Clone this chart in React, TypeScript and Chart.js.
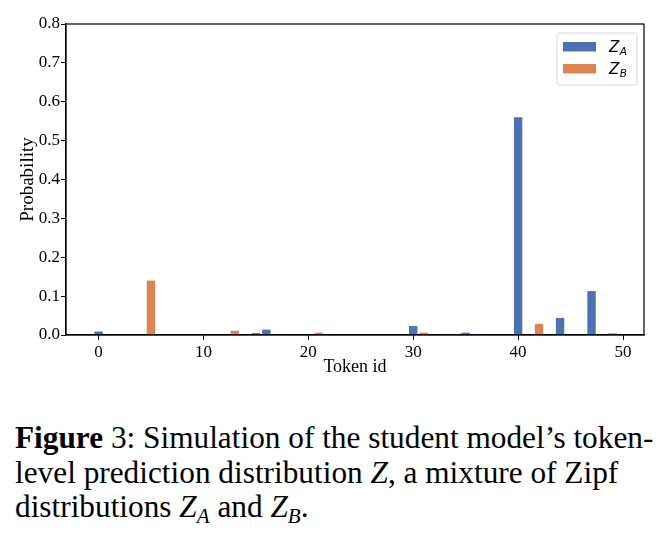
import React, { useEffect, useRef } from 'react';
import { Chart, registerables } from 'chart.js';

Chart.register(...registerables);

// Token ids and probabilities
const tokensA = [0, 15, 16, 30, 33, 35, 36, 40, 44, 47, 49];
const valuesA = [0.009, 0.005, 0.014, 0.023, 0.002, 0.006, 0.002, 0.56, 0.044, 0.113, 0.004];
const tokensB = [5, 13, 17, 21, 31, 34, 42];
const valuesB = [0.14, 0.011, 0.001, 0.006, 0.006, 0.002, 0.029];

const xTicks = [0, 10, 20, 30, 40, 50];
const yTicks = [0, 0.1, 0.2, 0.3, 0.4, 0.5, 0.6, 0.7, 0.8];
const legendLabels = [
  { main: 'Z', sub: 'A' },
  { main: 'Z', sub: 'B' },
];

const colorA = '#4C72B0';
const colorB = '#DD8452';
const SERIF = '"Liberation Serif", "Times New Roman", serif';

const frameAndLegend = {
  id: 'frameAndLegend',
  afterDatasetsDraw(chart: any) {
    const { ctx, chartArea } = chart;
    ctx.save();
    ctx.strokeStyle = '#000';
    ctx.lineWidth = 1.2;
    ctx.strokeRect(chartArea.left, chartArea.top, chartArea.right - chartArea.left, chartArea.bottom - chartArea.top);

    // legend box (top right)
    const bx = chartArea.right - 87;
    const by = chartArea.top + 9;
    const bw = 80;
    const bh = 52;
    const r = 3;
    ctx.beginPath();
    ctx.moveTo(bx + r, by);
    ctx.lineTo(bx + bw - r, by);
    ctx.quadraticCurveTo(bx + bw, by, bx + bw, by + r);
    ctx.lineTo(bx + bw, by + bh - r);
    ctx.quadraticCurveTo(bx + bw, by + bh, bx + bw - r, by + bh);
    ctx.lineTo(bx + r, by + bh);
    ctx.quadraticCurveTo(bx, by + bh, bx, by + bh - r);
    ctx.lineTo(bx, by + r);
    ctx.quadraticCurveTo(bx, by, bx + r, by);
    ctx.closePath();
    ctx.fillStyle = 'rgba(255,255,255,0.8)';
    ctx.fill();
    ctx.strokeStyle = '#d6d6d6';
    ctx.lineWidth = 1;
    ctx.stroke();

    const colors = [colorA, colorB];
    legendLabels.forEach((lab, i) => {
      const rowY = by + 13.5 + i * 22;
      ctx.fillStyle = colors[i];
      ctx.fillRect(bx + 6, rowY - 4.5, 33, 9.5);
      ctx.fillStyle = '#000';
      ctx.textBaseline = 'alphabetic';
      ctx.textAlign = 'left';
      ctx.font = 'italic 15px "DejaVu Sans", sans-serif';
      ctx.fillText(lab.main, bx + 52, rowY + 5.5);
      const w = ctx.measureText(lab.main).width;
      ctx.font = 'italic 10.5px "DejaVu Sans", sans-serif';
      ctx.fillText(lab.sub, bx + 52 + w + 0.5, rowY + 8.5);
    });
    ctx.restore();
  },
};

function ChartView() {
  const ref = useRef<HTMLCanvasElement | null>(null);
  useEffect(() => {
    if (!ref.current) return;
    const chart = new Chart(ref.current, {
      type: 'bar',
      data: {
        datasets: [
          {
            label: 'Z_A',
            data: tokensA.map((t, i) => ({ x: t, y: valuesA[i] })),
            backgroundColor: colorA,
            borderWidth: 0,
            grouped: false,
            barPercentage: 0.8,
            categoryPercentage: 1,
          } as any,
          {
            label: 'Z_B',
            data: tokensB.map((t, i) => ({ x: t, y: valuesB[i] })),
            backgroundColor: colorB,
            borderWidth: 0,
            grouped: false,
            barPercentage: 0.8,
            categoryPercentage: 1,
          } as any,
        ],
      },
      options: {
        responsive: false,
        animation: false,
        devicePixelRatio: 1,
        layout: { padding: { left: 0, right: 27, top: 24, bottom: 0 } },
        plugins: { legend: { display: false }, tooltip: { enabled: false } },
        scales: {
          x: {
            type: 'linear',
            min: -3.1,
            max: 52,
            offset: false,
            grid: { display: true, drawOnChartArea: false, drawTicks: true, tickLength: 5, color: '#000', offset: false },
            border: { display: true, color: '#000', width: 1.2 },
            afterBuildTicks: (s: any) => { s.ticks = xTicks.map((v) => ({ value: v })); },
            afterFit: (s: any) => { s.height = 65; },
            ticks: {
              color: '#000',
              font: { family: SERIF, size: 17 },
              padding: 2,
              maxRotation: 0,
              callback: (v: any) => String(v),
            },
            title: {
              display: true,
              text: 'Token id',
              color: '#000',
              font: { family: SERIF, size: 18 },
              padding: { top: 0, bottom: 22 },
            },
          },
          y: {
            type: 'linear',
            min: 0,
            max: 0.8,
            grid: { display: true, drawOnChartArea: false, drawTicks: true, tickLength: 5, color: '#000' },
            border: { display: true, color: '#000', width: 1.2 },
            afterBuildTicks: (s: any) => { s.ticks = yTicks.map((v) => ({ value: v })); },
            afterFit: (s: any) => { s.width = 66; },
            ticks: {
              color: '#000',
              font: { family: SERIF, size: 17 },
              padding: 1,
              callback: (v: any) => Number(v).toFixed(1),
            },
            title: {
              display: true,
              text: 'Probability',
              color: '#000',
              font: { family: SERIF, size: 19 },
              padding: { top: 17, bottom: 0 },
            },
          },
        },
      },
      plugins: [frameAndLegend],
    });
    return () => chart.destroy();
  }, []);
  return <canvas ref={ref} width={671} height={400} style={{ position: 'absolute', left: 0, top: 0, width: 671, height: 400 }} />;
}

const subStyle: React.CSSProperties = { fontSize: 21, verticalAlign: -6, lineHeight: 0, fontStyle: 'italic' };

export default function App() {
  return (
    <div style={{ position: 'fixed', left: 0, top: 0, width: 671, height: 535, background: '#fff', overflow: 'hidden' }}>
      <ChartView />
      <div
        style={{
          position: 'absolute',
          left: 15,
          top: 421,
          fontFamily: SERIF,
          fontSize: 31.3,
          lineHeight: '34.5px',
          color: '#000',
          whiteSpace: 'nowrap',
        }}
      >
        <div><b>Figure</b> 3: Simulation of the student model’s token-</div>
        <div>level prediction distribution <i>Z</i>, a mixture of Zipf</div>
        <div>
          distributions <i>Z</i><span style={subStyle}>A</span> and <i>Z</i><span style={subStyle}>B</span>.
        </div>
      </div>
    </div>
  );
}
